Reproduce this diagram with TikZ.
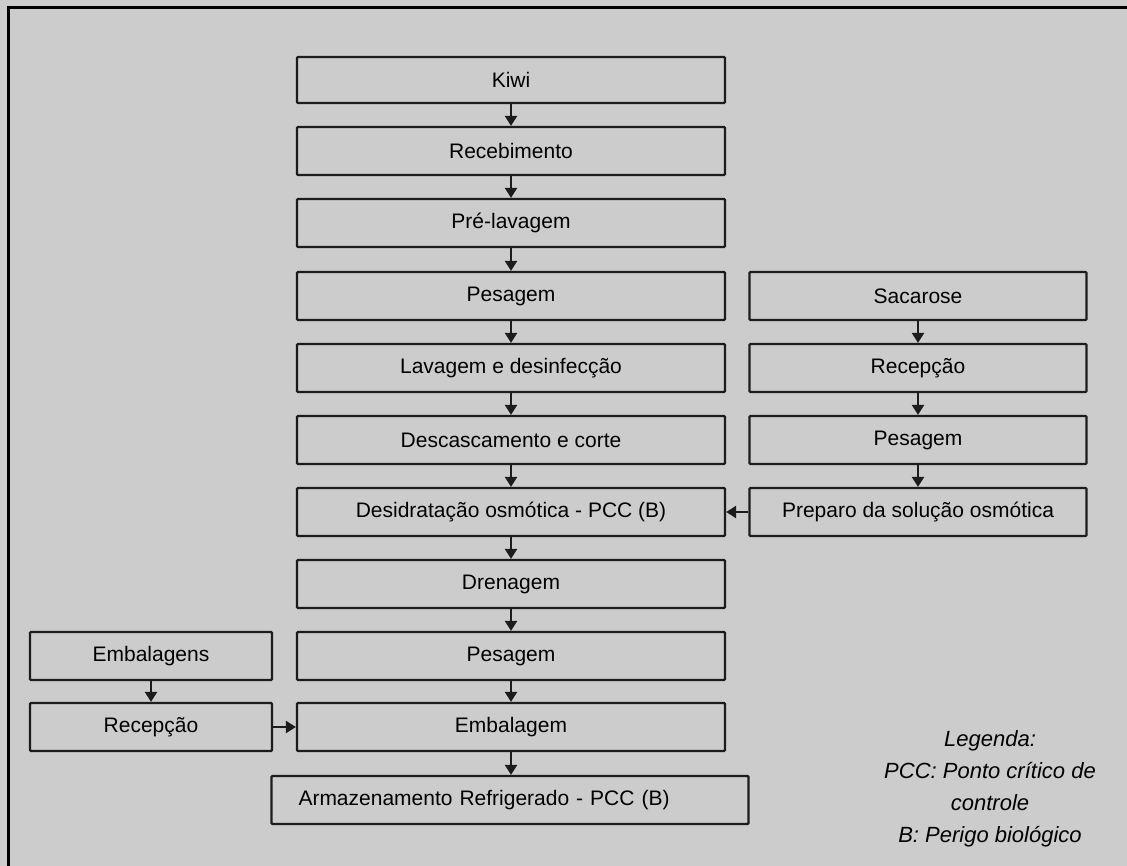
\documentclass[tikz,border=0pt]{standalone}
\usepackage{fontspec}
\setmainfont{Liberation Sans}
\usetikzlibrary{arrows.meta}

\definecolor{fundo}{RGB}{204,204,204}
\definecolor{borda}{RGB}{28,28,28}

\tikzset{
  etapa/.style={draw=borda, line width=2.2pt, rounded corners=1pt, minimum height=48pt, inner sep=0pt, font=\fontsize{21}{24}\selectfont},
  seta/.style={draw=borda, line width=2.2pt, -{Triangle[length=10pt, width=12pt]}}
}

\begin{document}
\begin{tikzpicture}[x=1pt, y=-1pt]
\fill[fundo] (0,0) rectangle (1127,866);
\useasboundingbox (0,0) rectangle (1127,866);
\draw[black, line width=3pt] (8,880) -- (8,8) -- (1140,8);

% coluna principal
\node[etapa, minimum width=428pt, minimum height=46pt] (kiwi) at (511,80) {Kiwi};
\node[etapa, minimum width=428pt] (receb) at (511,151) {Recebimento};
\node[etapa, minimum width=428pt] (prelav) at (511,223) {Pré-lavagem};
\node[etapa, minimum width=428pt] (pesag) at (511,296) {Pesagem};
\node[etapa, minimum width=428pt] (lavag) at (511,368) {Lavagem e desinfecção};
\node[etapa, minimum width=428pt] (descasc) at (511,440) {Descascamento e corte};
\node[etapa, minimum width=428pt] (desid) at (511,512) {Desidratação osmótica - PCC (B)};
\node[etapa, minimum width=428pt] (dren) at (511,584) {Drenagem};
\node[etapa, minimum width=428pt] (pesagb) at (511,656) {Pesagem};
\node[etapa, minimum width=428pt] (embal) at (511,727) {Embalagem};
\node[etapa, minimum width=477pt, text width=423pt, inner xsep=27pt, align=left] (armaz) at (510,800) {Armazenamento Refrigerado - PCC (B)};

% coluna da solução
\node[etapa, minimum width=337pt] (sacar) at (918,296) {Sacarose};
\node[etapa, minimum width=337pt] (recsac) at (918,368) {Recepção};
\node[etapa, minimum width=337pt] (pessac) at (918,440) {Pesagem};
\node[etapa, minimum width=337pt] (preparo) at (918,512) {Preparo da solução osmótica};

% coluna das embalagens
\node[etapa, minimum width=242pt] (embals) at (151,656) {Embalagens};
\node[etapa, minimum width=242pt] (recemb) at (151,727) {Recepção};

\draw[seta] (kiwi) -- (receb);
\draw[seta] (receb) -- (prelav);
\draw[seta] (prelav) -- (pesag);
\draw[seta] (pesag) -- (lavag);
\draw[seta] (lavag) -- (descasc);
\draw[seta] (descasc) -- (desid);
\draw[seta] (desid) -- (dren);
\draw[seta] (dren) -- (pesagb);
\draw[seta] (pesagb) -- (embal);
\draw[seta] (embal) -- (embal |- armaz.north);

\draw[seta] (sacar) -- (recsac);
\draw[seta] (recsac) -- (pessac);
\draw[seta] (pessac) -- (preparo);
\draw[seta] (preparo) -- (desid);

\draw[seta] (embals) -- (recemb);
\draw[seta] (recemb) -- (embal);

% legenda
\node[align=center, font=\itshape\fontsize{22}{32}\selectfont] (legenda) at (990,789) {Legenda:\\PCC: Ponto crítico de\\controle\\B: Perigo biológico};
\end{tikzpicture}
\end{document}
